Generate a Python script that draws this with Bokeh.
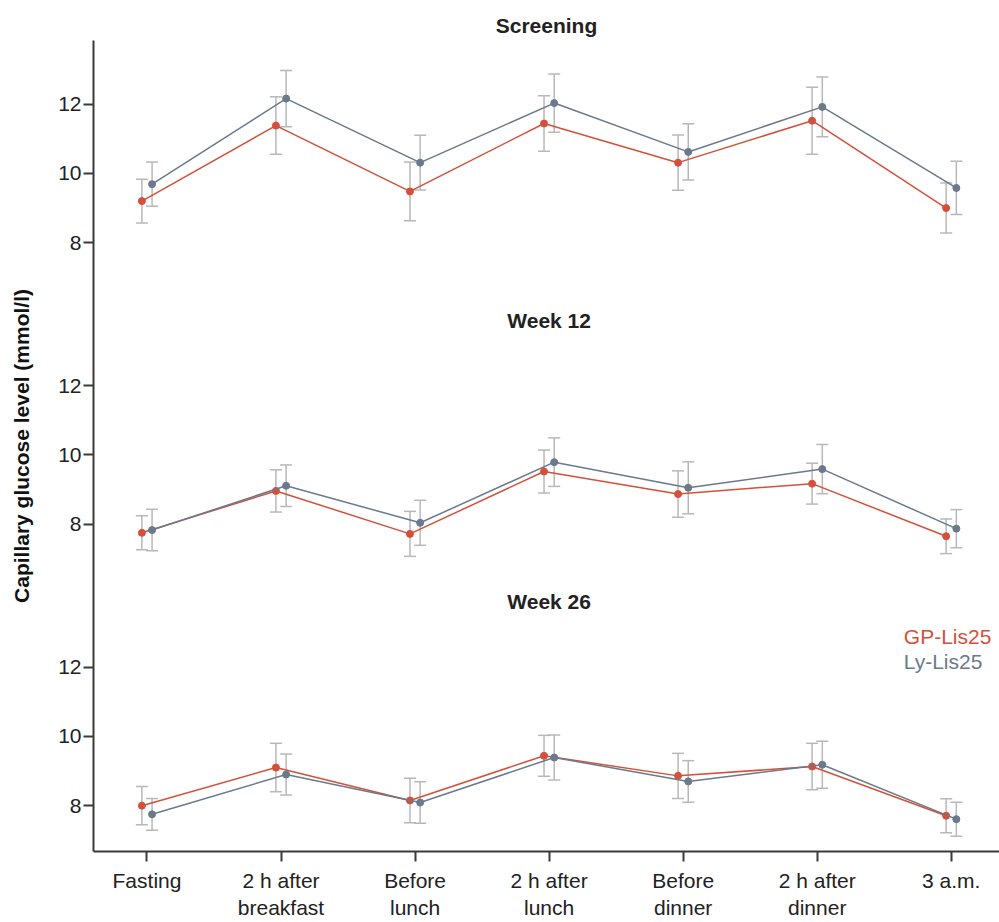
from bokeh.plotting import figure
from bokeh.models import ColumnDataSource, FixedTicker, Whisker, TeeHead, Range1d
from bokeh.core.properties import value
from bokeh.embed import file_html
from bokeh.resources import INLINE

# Measurement times over the day
timepoints = ["Fasting", "2 h after\nbreakfast", "Before\nlunch", "2 h after\nlunch",
              "Before\ndinner", "2 h after\ndinner", "3 a.m."]
panel_names = ["Screening", "Week 12", "Week 26"]
group_names = ["GP-Lis25", "Ly-Lis25"]
y_ticks = [8, 10, 12]

# Mean capillary glucose (mmol/l) and error-bar half widths
gp_screening = [9.20, 11.38, 9.48, 11.44, 10.31, 11.52, 9.00]
gp_screening_err = [0.63, 0.83, 0.85, 0.80, 0.80, 0.97, 0.72]
ly_screening = [9.69, 12.16, 10.31, 12.03, 10.62, 11.92, 9.58]
ly_screening_err = [0.64, 0.81, 0.79, 0.84, 0.81, 0.86, 0.77]

gp_week12 = [7.75, 8.96, 7.72, 9.52, 8.87, 9.17, 7.65]
gp_week12_err = [0.49, 0.61, 0.65, 0.62, 0.67, 0.59, 0.50]
ly_week12 = [7.83, 9.11, 8.04, 9.79, 9.05, 9.59, 7.87]
ly_week12_err = [0.60, 0.60, 0.65, 0.70, 0.75, 0.71, 0.55]

gp_week26 = [8.00, 9.10, 8.15, 9.44, 8.86, 9.13, 7.71]
gp_week26_err = [0.55, 0.70, 0.64, 0.59, 0.65, 0.67, 0.49]
ly_week26 = [7.75, 8.90, 8.09, 9.39, 8.70, 9.18, 7.61]
ly_week26_err = [0.46, 0.59, 0.60, 0.65, 0.60, 0.68, 0.49]

RED = "#d4503b"
SLATE = "#6a798b"
BAR = "#b8b8b8"
AXIS = "#3a3a3a"
FONT = "Liberation Sans"

# the three panels share one vertical axis; each is shifted down by PANEL_STEP
PANEL_STEP = 8.125
DODGE = 0.038

p = figure(width=999, height=922, output_backend="svg", toolbar_location=None,
           x_range=Range1d(-0.399, 6.36), y_range=Range1d(-9.573, 13.836),
           min_border_left=93, min_border_right=0, min_border_top=40,
           min_border_bottom=66)
p.outline_line_color = None
p.grid.visible = False
p.background_fill_color = "white"

series = [
    (0, gp_screening, gp_screening_err, ly_screening, ly_screening_err),
    (1, gp_week12, gp_week12_err, ly_week12, ly_week12_err),
    (2, gp_week26, gp_week26_err, ly_week26, ly_week26_err),
]

for k, gp, gp_err, ly, ly_err in series:
    shift = k * PANEL_STEP
    for mean, err, color, dx in ((gp, gp_err, RED, -DODGE), (ly, ly_err, SLATE, DODGE)):
        src = ColumnDataSource(dict(
            x=[i + dx for i in range(len(mean))],
            y=[m - shift for m in mean],
            upper=[m + e - shift for m, e in zip(mean, err)],
            lower=[m - e - shift for m, e in zip(mean, err)],
        ))
        w = Whisker(base="x", upper="upper", lower="lower", source=src,
                    dimension="height", line_color=BAR, line_width=1.5,
                    upper_head=TeeHead(size=12, line_color=BAR, line_width=1.5),
                    lower_head=TeeHead(size=12, line_color=BAR, line_width=1.5))
        p.add_layout(w)
        p.line("x", "y", source=src, line_color=color, line_width=1.5)
        p.scatter("x", "y", source=src, size=7, fill_color=color, line_color=color)

# Panel headings (first one as the plot title)
p.title.text = panel_names[0]
p.title.align = "center"
p.title.text_font = FONT
p.title.text_font_size = "21px"
p.title.text_font_style = "bold"
p.title.text_color = "#222222"
p.title.standoff = 7

p.text(x=[3, 3], y=[13.87 - PANEL_STEP, 13.89 - 2 * PANEL_STEP], text=panel_names[1:],
       text_font=value(FONT), text_font_size="21px", text_font_style="bold",
       text_color="#222222", text_align="center", text_baseline="middle")

# Group labels
p.text(x=[5.646, 5.646], y=[12.89 - 2 * PANEL_STEP, 12.16 - 2 * PANEL_STEP],
       text=group_names, text_color=[RED, SLATE],
       text_font=value(FONT), text_font_size="21px",
       text_align="left", text_baseline="middle")

# Axes
p.xaxis.ticker = FixedTicker(ticks=list(range(len(timepoints))))
p.xaxis.major_label_overrides = {i: t for i, t in enumerate(timepoints)}
yt = []
yl = {}
for k in range(len(panel_names)):
    for t in y_ticks:
        pos = t - k * PANEL_STEP
        yt.append(pos)
        yl[pos] = str(t)
p.yaxis.ticker = FixedTicker(ticks=yt)
p.yaxis.major_label_overrides = yl
p.yaxis.axis_label = "Capillary glucose level (mmol/l)"

for ax in (p.xaxis[0], p.yaxis[0]):
    ax.axis_line_color = AXIS
    ax.axis_line_width = 2
    ax.major_tick_line_color = AXIS
    ax.major_tick_line_width = 2
    ax.major_tick_in = 0
    ax.major_tick_out = 10
    ax.minor_tick_line_color = None
    ax.major_label_text_font = FONT
    ax.major_label_text_font_size = "21px"
    ax.major_label_text_color = "#222222"

p.xaxis.major_label_standoff = 7
p.yaxis.major_label_standoff = 2
p.yaxis.axis_label_text_font = FONT
p.yaxis.axis_label_text_font_size = "21px"
p.yaxis.axis_label_text_font_style = "bold"
p.yaxis.axis_label_text_color = "#111111"
p.yaxis.axis_label_standoff = 22

open("out.html", "w").write(file_html(p, INLINE))
